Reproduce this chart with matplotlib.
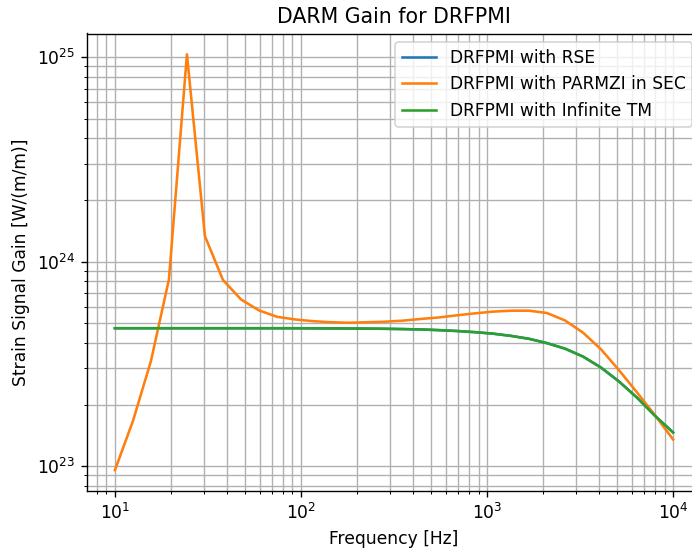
import numpy as np
import matplotlib
matplotlib.use('Agg')
import matplotlib.pyplot as plt

freq = np.logspace(1, 4, 32)

gain_parmzi = [9.55e22, 1.66e23, 3.26e23, 8.18e23, 1.03e25, 1.33e24, 8.13e23, 6.53e23,
               5.77e23, 5.37e23, 5.21e23, 5.11e23, 5.05e23, 5.02e23, 5.05e23, 5.08e23,
               5.14e23, 5.24e23, 5.33e23, 5.46e23, 5.58e23, 5.69e23, 5.75e23, 5.75e23,
               5.60e23, 5.15e23, 4.49e23, 3.72e23, 2.94e23, 2.29e23, 1.77e23, 1.35e23]

gain_inf = [4.72e23, 4.72e23, 4.72e23, 4.72e23, 4.72e23, 4.72e23, 4.72e23, 4.72e23,
            4.72e23, 4.72e23, 4.72e23, 4.715e23, 4.71e23, 4.705e23, 4.70e23, 4.69e23,
            4.675e23, 4.655e23, 4.62e23, 4.575e23, 4.515e23, 4.44e23, 4.33e23, 4.19e23,
            3.99e23, 3.75e23, 3.43e23, 3.03e23, 2.59e23, 2.16e23, 1.76e23, 1.46e23]

# RSE curve sits exactly under the infinite TM one
gain_rse = list(gain_inf)

dpi = 123
fig = plt.figure(figsize=(692/dpi, 550/dpi), dpi=dpi)
ax = fig.add_axes([87/692, 59/550, 614/692, 457.5/550])
ax.loglog(freq, gain_rse, label='DRFPMI with RSE')
ax.loglog(freq, gain_parmzi, label='DRFPMI with PARMZI in SEC')
ax.loglog(freq, gain_inf, label='DRFPMI with Infinite TM')
ax.grid(True, which='both')
ax.set_xlabel('Frequency [Hz]')
ax.set_ylabel('Strain Signal Gain [W/(m/m)]')
ax.set_title('DARM Gain for DRFPMI')
ax.legend(loc='upper right')
fig.savefig('out.png', dpi=dpi)
